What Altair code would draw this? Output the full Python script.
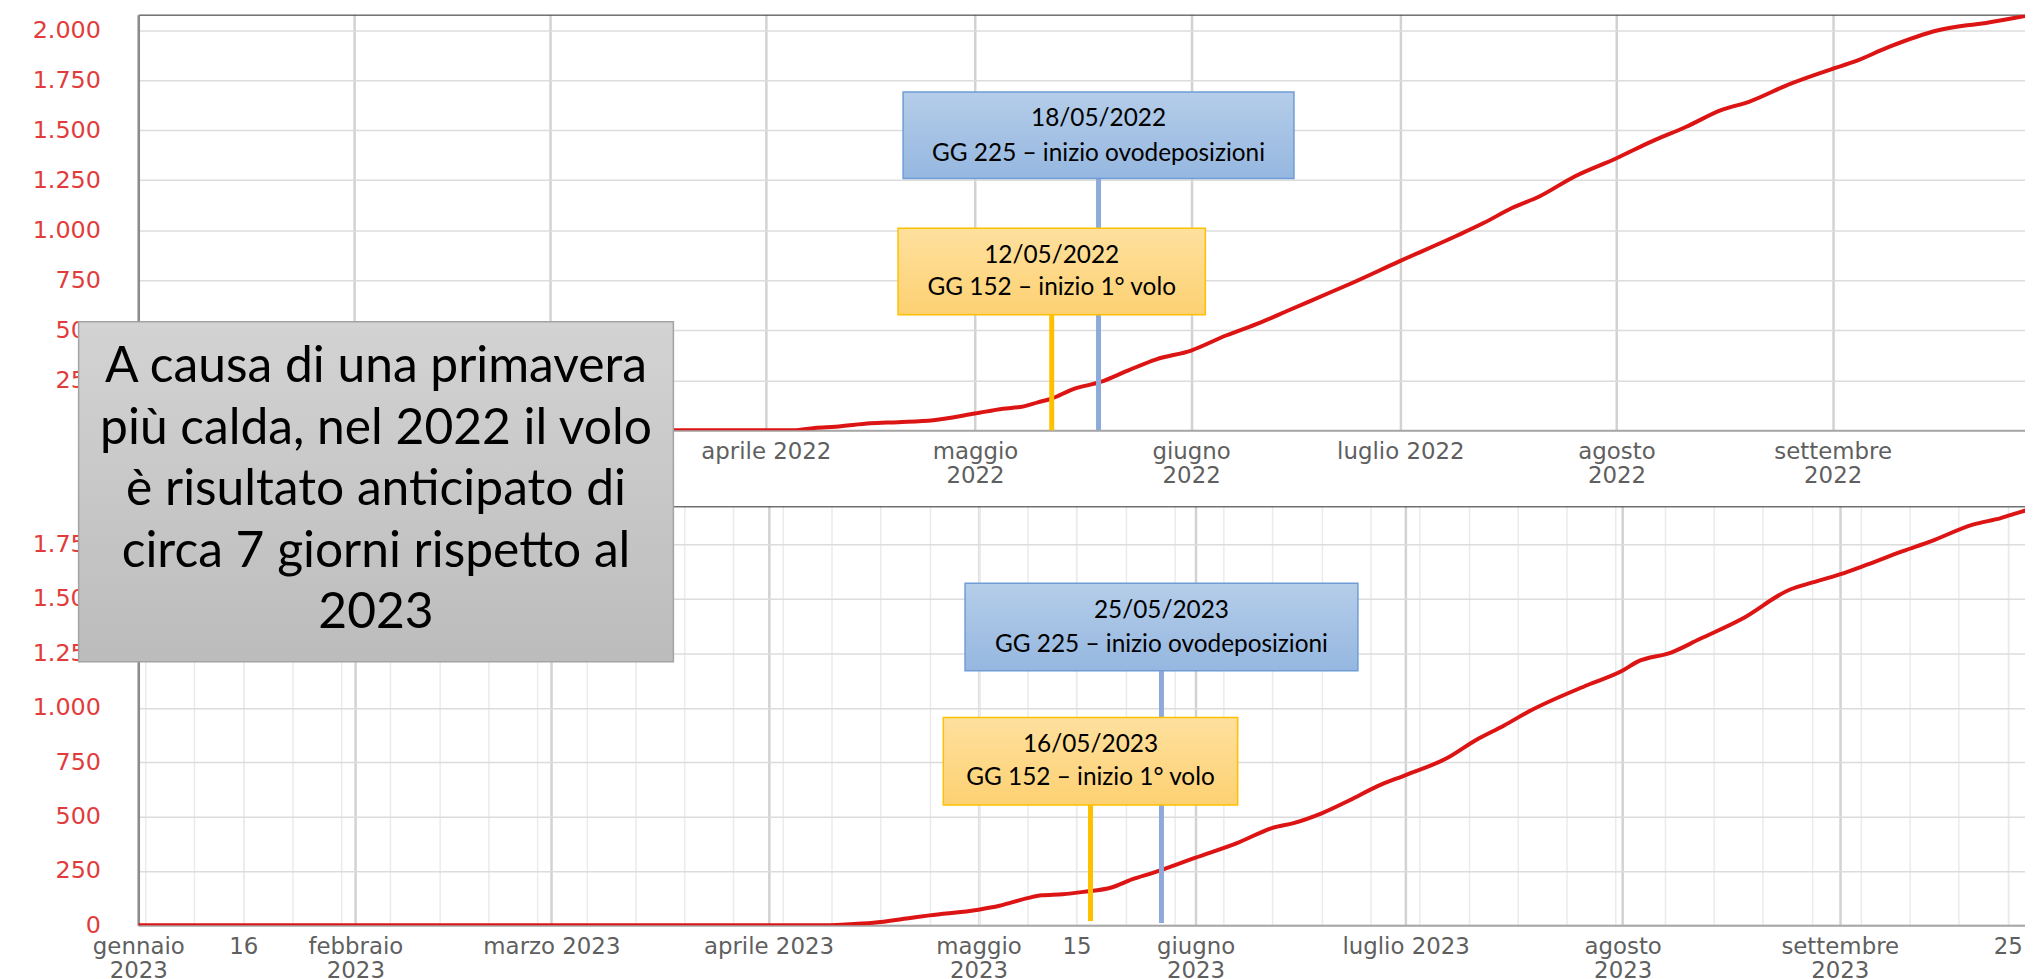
import altair as alt
import pandas as pd

# ---------------- data ----------------
dates_2022 = ["2022-01-01", "2022-04-05", "2022-04-08", "2022-04-11", "2022-04-16", "2022-04-20",
              "2022-04-25", "2022-05-01", "2022-05-05", "2022-05-08", "2022-05-10", "2022-05-12",
              "2022-05-15", "2022-05-19", "2022-05-23", "2022-05-27", "2022-06-01", "2022-06-06",
              "2022-06-11", "2022-06-15", "2022-06-21", "2022-06-23", "2022-07-01", "2022-07-09",
              "2022-07-13", "2022-07-17", "2022-07-21", "2022-07-26", "2022-08-01", "2022-08-06",
              "2022-08-11", "2022-08-16", "2022-08-20", "2022-08-26", "2022-09-01", "2022-09-04",
              "2022-09-09", "2022-09-16", "2022-09-20", "2022-09-23", "2022-09-29", "2022-10-01"]
gg_2022 = [0, 0, 12, 18, 35, 41,
           51, 84, 108, 120, 140, 159,
           205, 242, 300, 355, 399, 474,
           540, 600, 690, 720, 847, 971,
           1037, 1111, 1170, 1269, 1360, 1443,
           1517, 1600, 1642, 1733, 1807, 1841,
           1915, 1998, 2023, 2036, 2073, 2085]

dates_2023 = ["2023-01-01", "2023-04-08", "2023-04-12", "2023-04-16", "2023-04-21", "2023-04-24",
              "2023-05-01", "2023-05-04", "2023-05-08", "2023-05-10", "2023-05-13", "2023-05-16",
              "2023-05-20", "2023-05-23", "2023-05-26", "2023-06-01", "2023-06-07", "2023-06-12",
              "2023-06-15", "2023-06-19", "2023-06-23", "2023-06-27", "2023-07-01", "2023-07-07",
              "2023-07-11", "2023-07-15", "2023-07-19", "2023-07-27", "2023-08-01", "2023-08-03",
              "2023-08-08", "2023-08-12", "2023-08-18", "2023-08-25", "2023-08-28", "2023-09-01",
              "2023-09-05", "2023-09-10", "2023-09-14", "2023-09-20", "2023-09-24", "2023-09-27",
              "2023-10-01"]
gg_2023 = [0, 0, 4, 12, 33, 46,
           72, 90, 125, 138, 143, 154,
           174, 212, 242, 311, 379, 448,
           470, 515, 575, 640, 691, 770,
           851, 918, 990, 1105, 1171, 1210,
           1255, 1316, 1408, 1545, 1575, 1613,
           1659, 1720, 1765, 1842, 1872, 1902,
           1935]

event_dates_2022 = ["2022-05-12", "2022-05-18"]
event_dates_2023 = ["2023-05-16", "2023-05-25"]
event_kinds = ["volo", "ovo"]
event_gg = [152, 225]
event_names = ["inizio 1° volo", "inizio ovodeposizioni"]

y_ticks_2022 = [0, 250, 500, 750, 1000, 1250, 1500, 1750, 2000]
y_ticks_2023 = [0, 250, 500, 750, 1000, 1250, 1500, 1750]
x_ticks_2022 = ["2022-01-01", "2022-02-01", "2022-03-01", "2022-04-01", "2022-05-01",
                "2022-06-01", "2022-07-01", "2022-08-01", "2022-09-01"]
x_ticks_2023 = ["2023-01-01", "2023-01-16", "2023-02-01", "2023-03-01", "2023-04-01",
                "2023-05-01", "2023-05-15", "2023-06-01", "2023-07-01", "2023-08-01",
                "2023-09-01", "2023-09-25"]
minor_grid_2023 = [d.strftime("%Y-%m-%d") for d in pd.date_range("2023-01-02", "2023-09-25", freq="7D")]

month_names = ["gennaio", "febbraio", "marzo", "aprile", "maggio", "giugno", "luglio",
               "agosto", "settembre", "ottobre", "novembre", "dicembre"]
single_line_months = [2, 3, 6]

note_lines = ["A causa di una primavera", "più calda, nel 2022 il volo",
              "è risultato anticipato di", "circa 7 giorni rispetto al", "2023"]

# ---------------- helpers ----------------
def dt(s, hours=0):
    y, m, d = (int(v) for v in s.split("-"))
    return alt.DateTime(year=y, month=m, date=d, hours=hours, utc=True)


def vgrad(top, bottom):
    return alt.Gradient(gradient="linear",
                        stops=[alt.GradientStop(color=top, offset=0),
                               alt.GradientStop(color=bottom, offset=1)],
                        x1=0, x2=0, y1=0, y2=1)


months_js = "[" + ",".join(f"'{m}'" for m in month_names) + "]"


def x_label_expr(hidden_before_month):
    # labels under the grey note box are hidden (covered in the original)
    return (
        f"utcdate(datum.value) == 1 && utcmonth(datum.value) < {hidden_before_month} ? '' : "
        "utcdate(datum.value) != 1 ? '' + utcdate(datum.value) : "
        f"(indexof({single_line_months}, utcmonth(datum.value)) >= 0 ? "
        f"{months_js}[utcmonth(datum.value)] + ' ' + utcyear(datum.value) : "
        f"[{months_js}[utcmonth(datum.value)], '' + utcyear(datum.value)])"
    )


Y_LABEL_EXPR = "replace(format(datum.value, ','), ',', '.')"
AX_FONT = "DejaVu Sans"


def panel(year, dates, values, ev_dates, y_max, y_ticks, x_ticks, end_dt, width, height, g,
          minor=None, extra=(), hidden_before_month=0):
    xs = alt.Scale(type="utc", domain=[dt(f"{year}-01-01"), end_dt])
    ys = alt.Scale(domain=[0, y_max], nice=False, zero=False)

    df = pd.DataFrame({"date": dates, "gg": values})
    x_axis = alt.Axis(
        orient="bottom", values=[dt(s) for s in x_ticks],
        labelExpr=x_label_expr(hidden_before_month), title=None,
        grid=True,
        gridColor={"condition": {"test": "utcdate(datum.value) == 1", "value": "#d2d2d2"},
                   "value": "#e8e8e8"},
        gridWidth={"condition": {"test": "utcdate(datum.value) == 1", "value": 2.5},
                   "value": 1.5},
        ticks=False, domainColor="#a6a6a6", domainWidth=2,
        labelFont=AX_FONT, labelFontSize=23, labelColor="#5f5f5f", labelPadding=10,
        labelLineHeight=24, labelFlush=False, labelOverlap=False, labelBound=False,
        labelAlign="center", labelBaseline="top")
    y_axis = alt.Axis(
        values=y_ticks, labelExpr=Y_LABEL_EXPR, title=None, grid=True, gridColor="#dcdcdc",
        gridWidth=1.5, ticks=False, domainColor="#8c8c8c", domainWidth=2.5,
        labelFont=AX_FONT, labelFontSize=24, labelColor="#e23b3b", labelPadding=38,
        labelOverlap=False, labelFlush=False)

    line = alt.Chart(df).mark_line(color="#dc1414", strokeWidth=4, interpolate="monotone",
                                   clip=True).encode(
        x=alt.X("date:T", scale=xs, axis=x_axis),
        y=alt.Y("gg:Q", scale=ys, axis=y_axis))

    ev = pd.DataFrame({
        "date": ev_dates, "kind": event_kinds,
        "label": [f"{d[8:10]}/{d[5:7]}/{d[0:4]}\nGG {n} – {name}"
                  for d, n, name in zip(ev_dates, event_gg, event_names)]})

    top_kw = dict(orient="top", labels=False, ticks=False, title=None, domain=True,
                  domainColor="#262626", domainWidth=1)
    if minor:
        top_kw.update(grid=True, values=[dt(s) for s in minor], gridColor="#ebebeb", gridWidth=1.5)
    else:
        top_kw.update(grid=False)

    def xenc(axis=None):
        return alt.X("date:T", scale=xs, axis=axis)

    layers = [line]
    for kind, rule_col, fill_top, fill_bot, border, axis in [
        ("ovo", "#8eaadb", "#b5cde9", "#95b7e0", "#6f9cd6", alt.Axis(**top_kw)),
        ("volo", "#ffc000", "#fee09e", "#fdd172", "#ffc000", None),
    ]:
        p = g[kind]
        base = alt.Chart(ev).transform_filter(f"datum.kind == '{kind}'")
        layers.append(base.mark_rule(color=rule_col, strokeWidth=5, xOffset=p["dx"]).encode(
            x=xenc(axis), y=alt.value(p["y2"]), y2=alt.value(p["rule_end"])))
        layers.append(base.mark_rect(fill=vgrad(fill_top, fill_bot), stroke=border, strokeWidth=1.5,
                                     xOffset=p["dx"] - p["hw"], x2Offset=p["dx"] + p["hw"]).encode(
            x=xenc(), x2="date:T", y=alt.value(p["y1"]), y2=alt.value(p["y2"])))
        layers.append(base.mark_text(font="Lato", fontSize=24.5, lineBreak="\n",
                                     lineHeight=p["lh"], align="center", baseline="middle",
                                     color="#000000", xOffset=p["dx"]).encode(
            x=xenc(), y=alt.value(p["ty"]), text="label:N"))
    layers.extend(extra)
    return alt.layer(*layers).properties(width=width, height=height)


# box geometry (pixels inside each plot), first-line text centre, line height
geo_2022 = {
    "ovo": dict(dx=5, hw=196.5, y1=77.7, y2=164.7, ty=104.7, lh=35, rule_end=418),
    "volo": dict(dx=0, hw=154.5, y1=214.7, y2=301.7, ty=242.7, lh=32, rule_end=418),
}
geo_2023 = {
    "ovo": dict(dx=15, hw=197.5, y1=77.3, y2=165.3, ty=105.6, lh=33.4, rule_end=419),
    "volo": dict(dx=7, hw=148, y1=212.3, y2=300.3, ty=240, lh=33.3, rule_end=417),
}

note_df = pd.DataFrame({"note": ["\n".join(note_lines)]})
gray_box = alt.Chart(note_df).mark_rect(fill=vgrad("#d3d3d3", "#bcbcbc"), stroke="#a3a3a3",
                                        strokeWidth=1.5).encode(
    x=alt.value(-60), x2=alt.value(538), y=alt.value(-185.7), y2=alt.value(156.3))
gray_text = alt.Chart(note_df).mark_text(font="Lato", fontSize=50, lineBreak="\n", lineHeight=61.8,
                                         align="center", baseline="middle", color="#000000").encode(
    x=alt.value(239), y=alt.value(-139.7), text="note:N")

top = panel(2022, dates_2022, gg_2022, event_dates_2022, 2077.5, y_ticks_2022, x_ticks_2022,
            dt("2022-09-28", 14), 1897, 418, geo_2022, hidden_before_month=3)
bottom = panel(2023, dates_2023, gg_2023, event_dates_2023, 1926, y_ticks_2023, x_ticks_2023,
               dt("2023-09-27", 11), 1897, 421.3, geo_2023, minor=minor_grid_2023,
               extra=(gray_box, gray_text))

chart = alt.vconcat(top, bottom, spacing=76.4, bounds="flush").properties(
    padding={"left": 24, "top": 4, "right": 0, "bottom": 0}, background="white"
).configure_view(stroke=None)

chart.save("out.html", embed_options={"renderer": "svg", "actions": False})
